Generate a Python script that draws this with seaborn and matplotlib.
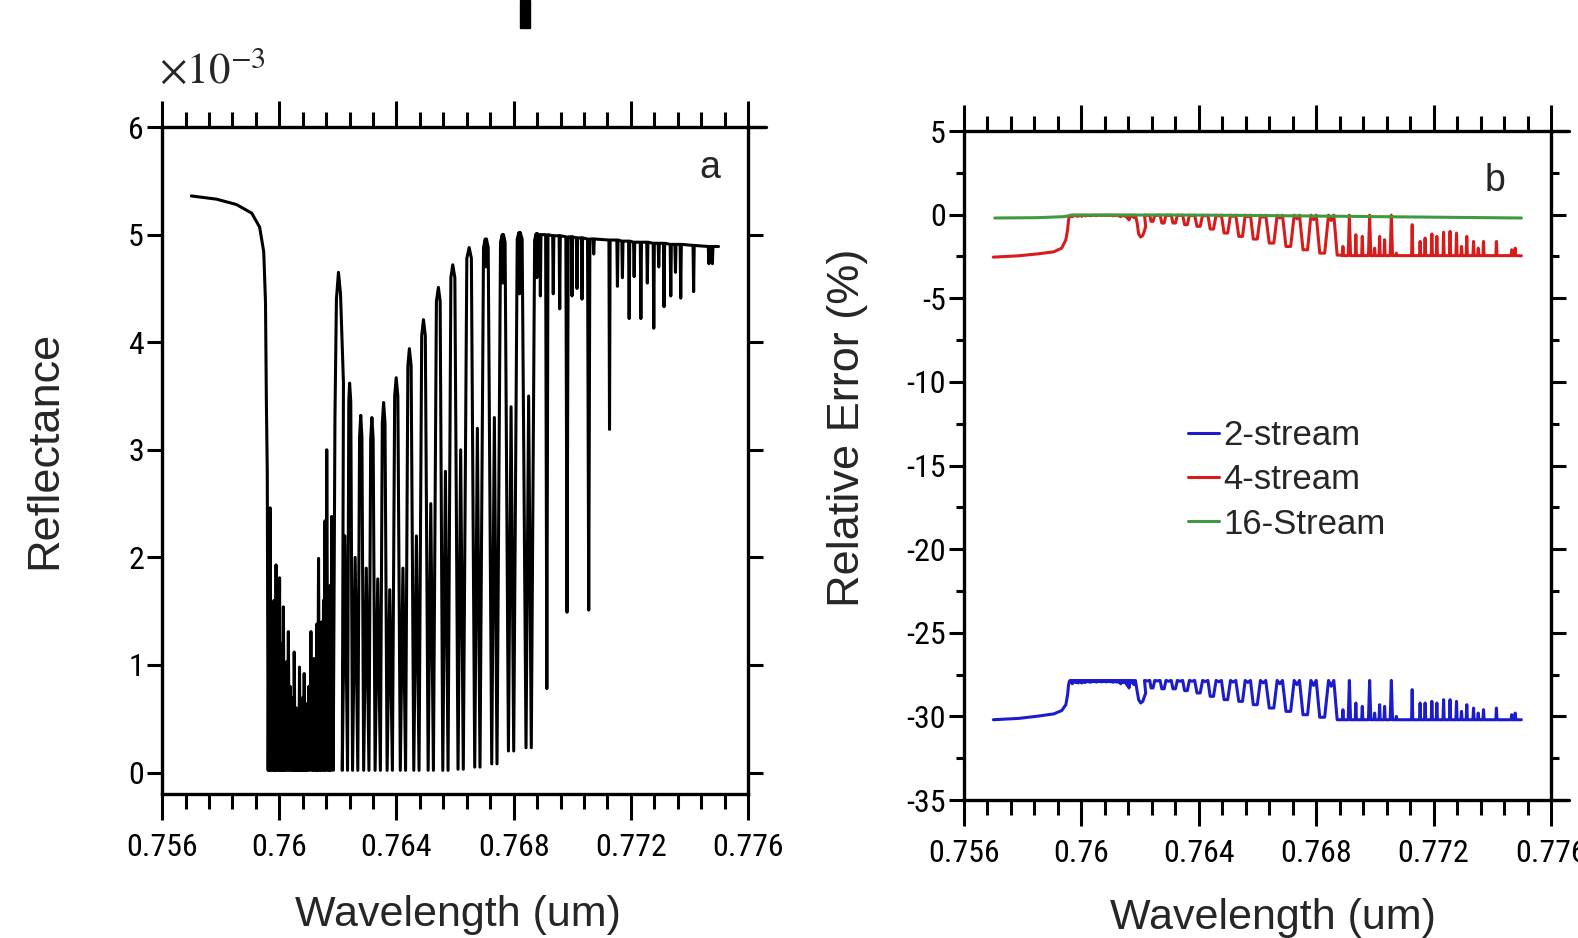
import matplotlib
matplotlib.use("Agg")
import matplotlib.pyplot as plt
import seaborn as sns
import pandas as pd
from matplotlib.ticker import MultipleLocator, FuncFormatter
from matplotlib.patches import Rectangle
from matplotlib import font_manager
from matplotlib.font_manager import FontProperties

# ---------------------------------------------------------------------------
# values (wavelength in um, reflectance x1e-3,
# relative errors in %)
# ---------------------------------------------------------------------------

# continuum ahead of the band head
lead_wl = [0.75700, 0.75786, 0.75854, 0.75906, 0.75933, 0.75947, 0.75953, 0.75956, 0.75959]
lead_refl = [5.36, 5.33, 5.28, 5.20, 5.07, 4.84, 4.37, 3.44, 2.80]
lead_err4 = [-2.54, -2.46, -2.34, -2.22, -2.0, -1.5, -0.9, -0.35, -0.08]
lead_err2 = [-30.2, -30.12, -29.98, -29.85, -29.65, -29.3, -28.7, -28.15, -27.9]

# R branch: saturated lines (bottoms) and the narrow windows between them (peaks)
rb_line_wl = [0.75962, 0.75967, 0.75972, 0.75978, 0.75984, 0.75987, 0.75992, 0.75998,
              0.76003, 0.76007, 0.76011, 0.76017, 0.76022, 0.76028, 0.76034, 0.76040,
              0.76046, 0.76049, 0.76054, 0.76058, 0.76063, 0.76067, 0.76072, 0.76075,
              0.76079, 0.76083, 0.76088, 0.76092, 0.76097, 0.76104, 0.76111, 0.76116,
              0.76122, 0.76126, 0.76131, 0.76137, 0.76142, 0.76148, 0.76153, 0.76159,
              0.76166, 0.76171, 0.76176, 0.76184]
rb_peak_wl = [0.75965, 0.75969, 0.75975, 0.75982, 0.75986, 0.75989, 0.75995, 0.76001,
              0.76005, 0.76009, 0.76014, 0.76020, 0.76025, 0.76031, 0.76037, 0.76043,
              0.76048, 0.76051, 0.76057, 0.76060, 0.76066, 0.76069, 0.76074, 0.76077,
              0.76081, 0.76085, 0.76090, 0.76094, 0.76101, 0.76108, 0.76114, 0.76119,
              0.76124, 0.76128, 0.76134, 0.76140, 0.76145, 0.76151, 0.76156, 0.76162,
              0.76169, 0.76174, 0.76179]
rb_peak_refl = [1.90, 2.46, 1.50, 1.60, 1.30, 1.93, 1.20, 1.81, 1.00, 1.20, 1.54, 0.90,
                1.03, 1.31, 0.80, 0.64, 0.70, 1.12, 0.60, 0.39, 0.60, 0.98, 0.55, 0.53,
                0.70, 0.92, 0.60, 0.64, 0.80, 1.31, 0.82, 1.06, 0.90, 1.38, 1.99, 1.10,
                1.40, 1.60, 2.34, 3.00, 1.50, 1.74, 2.38]
rb_peak_err4 = [-0.08, -0.12, -0.07, -0.08, -0.06, -0.1, -0.06, -0.1, -0.05, -0.06, -0.08,
                -0.05, -0.05, -0.07, -0.04, -0.04, -0.04, -0.06, -0.03, -0.03, -0.03, -0.05,
                -0.03, -0.03, -0.04, -0.05, -0.03, -0.04, -0.04, -0.07, -0.05, -0.06, -0.05,
                -0.08, -0.12, -0.06, -0.08, -0.1, -0.2, -0.32, -0.08, -0.1, -0.18]
rb_peak_err2 = [-27.97, -28.05, -27.96, -27.98, -27.94, -28.0, -27.94, -28.0, -27.93,
                -27.95, -27.97, -27.92, -27.94, -27.96, -27.92, -27.92, -27.92, -27.95,
                -27.91, -27.9, -27.91, -27.94, -27.91, -27.92, -27.92, -27.94, -27.91,
                -27.92, -27.93, -27.96, -27.93, -27.95, -27.93, -27.97, -28.05, -27.95,
                -27.97, -28.0, -28.15, -28.3, -27.96, -28.0, -28.1]
sat_refl, sat_err4, sat_err2 = 0.02, -0.03, -27.85

# clear window between the two branches
win_wl = [0.76190, 0.76195, 0.76202, 0.76209, 0.76215, 0.76219]
win_refl = [3.3, 4.4, 4.65, 4.45, 3.95, 3.62]
win_err4 = [-0.5, -1.15, -1.34, -1.25, -0.95, -0.7]
win_err2 = [-28.5, -29.0, -29.2, -29.1, -28.8, -28.6]

# P branch: doublet lines followed by an arch
pb_line_wl = [0.76224, 0.76259, 0.76297, 0.76336, 0.76377, 0.76422, 0.76468, 0.76517,
              0.76567, 0.76619, 0.76676, 0.76734, 0.76791, 0.76851]
pb_line_refl = [0.02, 0.02, 0.02, 0.02, 0.02, 0.02, 0.02, 0.02, 0.02, 0.03, 0.05, 0.08, 0.20, 0.23]
pb_inner_refl = [2.2, 2.0, 1.9, 1.8, 1.7, 1.9, 2.2, 2.5, 2.8, 3.0, 3.2, 3.3, 3.4, 3.5]
pb_inner_err4 = [-0.04, -0.04, -0.05, -0.05, -0.06, -0.07, -0.08, -0.1, -0.12, -0.15, -0.2,
                 -0.25, -0.3, -0.35]
pb_inner_err2 = [-27.88, -27.88, -27.9, -27.9, -27.9, -27.92, -27.93, -27.95, -27.97, -28.0,
                 -28.05, -28.1, -28.15, -28.2]
pb_arch_wl = [0.76240, 0.76278, 0.76316, 0.76356, 0.76399, 0.76444, 0.76492, 0.76543,
              0.76592, 0.76648, 0.76705, 0.76763, 0.76820, 0.76879]
pb_arch_refl = [3.62, 3.32, 3.30, 3.44, 3.67, 3.94, 4.21, 4.51, 4.72, 4.88, 4.96, 5.00, 5.02, 5.01]
pb_shoulder_refl = [3.45, 3.12, 3.10, 3.25, 3.50, 3.78, 4.06, 4.38, 4.60, 4.78, 4.88, 4.93,
                    4.96, 4.95]
# weak lines sitting on top of the last arches (None = no weak line)
pb_arch_dip = [None, None, None, None, None, None, None, None, None, None, 4.70, 4.55,
               4.45, 4.60]
pb_arch_err4 = [-0.4, -0.5, -0.5, -0.6, -0.7, -0.86, -1.1, -1.3, -1.46, -1.7, -1.9, -2.1,
                -2.3, -2.42]
pb_arch_err2 = [-28.3, -28.35, -28.35, -28.46, -28.6, -28.8, -29.0, -29.1, -29.3, -29.5,
                -29.7, -29.9, -30.05, -30.2]

# weak-line tail
tail_wl = [0.76891, 0.76913, 0.76935, 0.76957, 0.76982, 0.76999, 0.77016, 0.77033, 0.77056,
           0.77073, 0.77127, 0.77154, 0.77171, 0.77194, 0.77211, 0.77234, 0.77256, 0.77278,
           0.77295, 0.77313, 0.77336, 0.77352, 0.77370, 0.77414, 0.77466, 0.77478]
tail_refl = [4.43, 0.78, 4.45, 4.31, 1.49, 4.43, 4.50, 4.40, 1.51, 4.82, 3.19, 4.52, 4.60,
             4.22, 4.61, 4.22, 4.55, 4.13, 4.70, 4.33, 4.43, 4.65, 4.41, 4.47, 4.73, 4.73]
tail_cont = [5.00, 5.00, 4.99, 4.99, 4.98, 4.98, 4.97, 4.97, 4.96, 4.96, 4.95, 4.95, 4.94,
             4.94, 4.93, 4.93, 4.93, 4.92, 4.92, 4.92, 4.91, 4.91, 4.91, 4.90, 4.89, 4.89]
tail_err4 = [-1.9, -0.03, -1.2, -1.3, -0.03, -2.0, -1.3, -1.5, -0.03, -2.3, -0.6, -1.6, -1.4,
             -1.15, -1.3, -1.05, -1.0, -1.1, -1.9, -1.3, -1.6, -2.0, -1.6, -1.6, -2.1, -2.0]
tail_err2 = [-29.6, -27.85, -29.2, -29.4, -27.85, -29.8, -29.3, -29.4, -27.85, -30.0, -28.4,
             -29.2, -29.2, -29.1, -29.2, -29.0, -29.0, -29.1, -29.7, -29.3, -29.5, -29.8,
             -29.6, -29.5, -29.9, -29.8]
tail_cont_err4, tail_cont_err2 = -2.45, -30.2
end_wl, end_refl, end_err4, end_err2 = 0.77499, 4.89, -2.46, -30.2

# 16-stream error stays close to zero
green_wl = [0.75705, 0.7585, 0.7594, 0.7597, 0.7630, 0.7660, 0.7690, 0.7720, 0.77499]
green_err = [-0.2, -0.18, -0.12, -0.03, -0.02, -0.05, -0.1, -0.15, -0.2]

x_ticks = [0.756, 0.760, 0.764, 0.768, 0.772, 0.776]


def build_spectrum():
    rows = list(zip(lead_wl, lead_refl, lead_err4, lead_err2))

    # R branch
    for i, w in enumerate(rb_line_wl):
        rows.append((w, sat_refl, sat_err4, sat_err2))
        if i < len(rb_peak_wl):
            rows.append((rb_peak_wl[i], rb_peak_refl[i], rb_peak_err4[i], rb_peak_err2[i]))

    # window
    rows += list(zip(win_wl, win_refl, win_err4, win_err2))

    # P branch
    hw = 0.00009
    n = len(pb_line_wl)
    for i, c in enumerate(pb_line_wl):
        rows.append((c - hw, pb_line_refl[i], sat_err4, sat_err2))
        rows.append((c, pb_inner_refl[i], pb_inner_err4[i], pb_inner_err2[i]))
        rows.append((c + hw, pb_line_refl[i], sat_err4, sat_err2))
        a = pb_arch_wl[i]
        left = c + hw
        right = pb_line_wl[i + 1] - hw if i + 1 < n else tail_wl[0] - 0.00002
        e4, e2 = pb_arch_err4[i], pb_arch_err2[i]
        rows.append((a - 0.4 * (a - left), pb_shoulder_refl[i], e4, e2))
        if pb_arch_dip[i] is None:
            rows.append((a, pb_arch_refl[i], e4, e2))
        else:
            rows.append((a - 0.00002, pb_arch_refl[i], e4, e2))
            rows.append((a, pb_arch_dip[i], e4, e2))
            rows.append((a + 0.00002, pb_arch_refl[i], e4, e2))
        rows.append((a + 0.4 * (right - a), pb_shoulder_refl[i], e4, e2))

    # tail
    for i, c in enumerate(tail_wl):
        w = 0.00004 if tail_refl[i] < 2 else 0.00002
        rows.append((c - w, tail_cont[i], tail_cont_err4, tail_cont_err2))
        rows.append((c, tail_refl[i], tail_err4[i], tail_err2[i]))
        rows.append((c + w, tail_cont[i], tail_cont_err4, tail_cont_err2))
    rows.append((end_wl, end_refl, end_err4, end_err2))

    return pd.DataFrame(rows, columns=["wl", "refl", "err4", "err2"])


def pick_tick_font():
    # a narrow sans face looks closest to the squeezed tick numbers
    for fam, stretch, tag in [("Liberation Sans Narrow", "normal", "Narrow"),
                              ("Roboto Condensed", "normal", "Condensed"),
                              ("Roboto", "condensed", "Condensed"),
                              ("DejaVu Sans", "condensed", "Condensed")]:
        try:
            path = font_manager.findfont(FontProperties(family=fam, stretch=stretch),
                                         fallback_to_default=False)
            if tag.lower() in path.lower():
                return FontProperties(fname=path)
        except Exception:
            pass
    return FontProperties(family="Liberation Sans")


def style_axis(ax, ylim, ymajor, yminor, tick_fp, tick_size):
    ax.set_xlim(0.756, 0.776)
    ax.set_ylim(*ylim)
    ax.set_xticks(x_ticks)
    ax.xaxis.set_minor_locator(MultipleLocator(0.0008))
    ax.yaxis.set_major_locator(MultipleLocator(ymajor))
    if yminor:
        ax.yaxis.set_minor_locator(MultipleLocator(yminor))
    fmt = FuncFormatter(lambda v, p: f"{v:g}")
    ax.xaxis.set_major_formatter(fmt)
    ax.yaxis.set_major_formatter(fmt)
    ax.tick_params(which="both", direction="out", top=True, right=True,
                   width=2.2, color="black", labelcolor="black")
    ax.tick_params(axis="x", which="major", length=19, pad=9)
    ax.tick_params(axis="x", which="minor", length=11)
    ax.tick_params(axis="y", which="major", length=11, pad=2)
    ax.tick_params(axis="y", which="minor", length=6)
    for lab in ax.get_xticklabels() + ax.get_yticklabels():
        lab.set_fontproperties(tick_fp)
        lab.set_fontsize(tick_size)
    for s in ax.spines.values():
        s.set_linewidth(2.4)
        s.set_color("black")
        s.set_visible(True)
    ax.grid(False)
    ax.set_facecolor("white")


def main():
    sns.set_theme(style="ticks")
    plt.rcParams["font.family"] = ["Liberation Sans", "DejaVu Sans"]
    plt.rcParams["axes.unicode_minus"] = False
    plt.rcParams["mathtext.fontset"] = "stix"
    tick_fp = pick_tick_font()
    tick_size = 23 if "Liberation Sans" == tick_fp.get_family()[0] else 25

    spec = build_spectrum()

    fig = plt.figure(figsize=(15.78, 9.38), dpi=100)
    fig.patch.set_facecolor("white")
    ax_a = fig.add_axes([0.1027, 0.1535, 0.3714, 0.711])
    ax_b = fig.add_axes([0.6109, 0.1471, 0.3720, 0.7132])

    # panel a: reflectance spectrum
    sns.lineplot(data=spec, x="wl", y="refl", ax=ax_a, color="black", lw=2.2,
                 sort=False, estimator=None)
    style_axis(ax_a, (-0.2, 6), 1, None, tick_fp, tick_size)
    ax_a.set_xlabel("Wavelength (um)", fontsize=31)
    ax_a.set_ylabel("Reflectance", fontsize=32.5)
    ax_a.xaxis.set_label_coords(0.505, -0.152)
    ax_a.yaxis.set_label_coords(-0.165, 0.516)
    ax_a.text(0.935, 0.938, "a", transform=ax_a.transAxes, fontsize=27,
              ha="center", va="center")
    ax_a.axhline(6, xmin=1, xmax=1.03, color="black", lw=2.4, clip_on=False)
    fig.text(0.1005, 1 - 83 / 938, r"$\times10^{-3}$", fontsize=31, va="baseline")

    # panel b: relative errors
    sns.lineplot(data=spec, x="wl", y="err2", ax=ax_b, color="#1c1ccc", lw=2.2,
                 sort=False, estimator=None, label="2-stream")
    sns.lineplot(data=spec, x="wl", y="err4", ax=ax_b, color="#d81c1c", lw=2.2,
                 sort=False, estimator=None, label="4-stream")
    sns.lineplot(x=green_wl, y=green_err, ax=ax_b, color="#3f9a3f", lw=2.2,
                 sort=False, estimator=None, label="16-Stream")
    style_axis(ax_b, (-35, 5), 5, 2.5, tick_fp, tick_size)
    ax_b.set_xlabel("Wavelength (um)", fontsize=31)
    ax_b.set_ylabel("Relative Error (%)", fontsize=32.5)
    ax_b.xaxis.set_label_coords(0.526, -0.146)
    ax_b.yaxis.set_label_coords(-0.163, 0.556)
    ax_b.text(0.905, 0.925, "b", transform=ax_b.transAxes, fontsize=27,
              ha="center", va="center")
    ax_b.axhline(5, xmin=1, xmax=1.03, color="black", lw=2.4, clip_on=False)
    ax_b.axhline(-35, xmin=1, xmax=1.03, color="black", lw=2.4, clip_on=False)
    ax_b.legend(loc="upper left", bbox_to_anchor=(0.753, 0.553),
                bbox_transform=fig.transFigure, frameon=False, fontsize=25,
                handlelength=0.9, handletextpad=0.1, labelspacing=0.32,
                borderpad=0, borderaxespad=0)

    # cropped fragment at the top edge of the source image
    fig.add_artist(Rectangle((520 / 1578, 1 - 28 / 938), 10 / 1578, 28 / 938,
                             transform=fig.transFigure, color="black"))

    fig.savefig("out.png", dpi=100)


if __name__ == "__main__":
    main()
